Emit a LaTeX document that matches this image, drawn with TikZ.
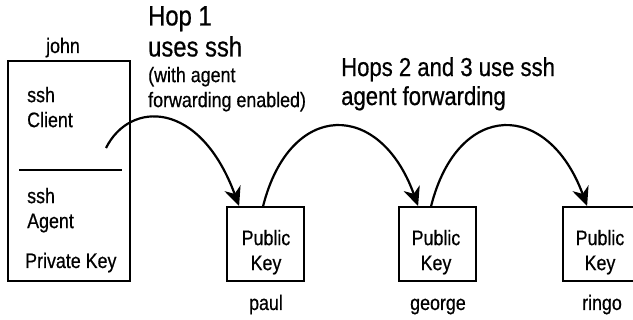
\documentclass[tikz,border=0pt]{standalone}
\usepackage{fontspec}
\setmainfont{Liberation Sans}[FakeStretch=0.85, FakeBold=0.6]
\usetikzlibrary{arrows.meta}

\tikzset{
	host/.style={draw, line width=1.8pt, inner sep=0pt},
	keybox/.style={host, minimum width=77pt, minimum height=74pt},
	hop/.style={-{Stealth[length=19pt, width=17pt, inset=6pt]}, line width=2.2pt},
	boxtext/.style={font=\fontsize{21}{25}\selectfont, inner sep=0pt},
	bigtext/.style={font=\fontsize{26}{29}\selectfont, align=left, inner sep=0pt, anchor=north west},
	smalltext/.style={font=\fontsize{21}{25}\selectfont, align=left, inner sep=0pt, anchor=north west}
}

\begin{document}
\begin{tikzpicture}[x=1pt, y=-1pt]
	\useasboundingbox (0,0) rectangle (633,320);

	% john, with client and agent
	\node[host, minimum width=122pt, minimum height=220pt] (john) at (69,171) {};
	\node[boxtext, anchor=base] (johnname) at (63,53) {john};
	\draw[line width=1.8pt] (19,170) -- (122,170);
	\node[boxtext, align=left, anchor=north west] (client) at (27,86.7) {ssh\\Client};
	\node[boxtext, align=left, anchor=north west] (agent) at (27,187.7) {ssh\\Agent};
	\node[boxtext, anchor=base west] (privkey) at (25,268) {Private Key};
	\coordinate (clientout) at (106,148);

	% the three hosts holding the public key
	\node[keybox] (paul) at (265.5,244) {};
	\node[boxtext, align=center, anchor=north] (paulkey) at (266,229.7) {Public\\Key};
	\node[boxtext, anchor=base] (paulname) at (266,310) {paul};

	\node[keybox] (george) at (437.5,244) {};
	\node[boxtext, align=center, anchor=north] (georgekey) at (436,229.7) {Public\\Key};
	\node[boxtext, anchor=base] (georgename) at (438,310) {george};

	\node[keybox] (ringo) at (601.5,244) {};
	\node[boxtext, align=center, anchor=north] (ringokey) at (600,229.7) {Public\\Key};
	\node[boxtext, anchor=base] (ringoname) at (602,310) {ringo};

	% hops
	\draw[hop] (clientout) .. controls (130,100) and (200,100) .. ([xshift=13pt]paul.north west);
	\draw[hop] ([xshift=37pt]paul.north west) .. controls (290,100) and (380,100) .. ([xshift=20pt]george.north west);
	\draw[hop] ([xshift=33pt]george.north west) .. controls (458,100) and (548,100) .. ([xshift=25pt]ringo.north west);

	\node[bigtext, font=\fontsize{28}{31}\selectfont] (hopone) at (148,6) {Hop 1\\uses ssh};
	\node[smalltext] (hoponenote) at (148,66.7) {(with agent\\forwarding enabled)};
	\node[bigtext] (hopsrest) at (341,57) {Hops 2 and 3 use ssh\\agent forwarding};
\end{tikzpicture}
\end{document}
